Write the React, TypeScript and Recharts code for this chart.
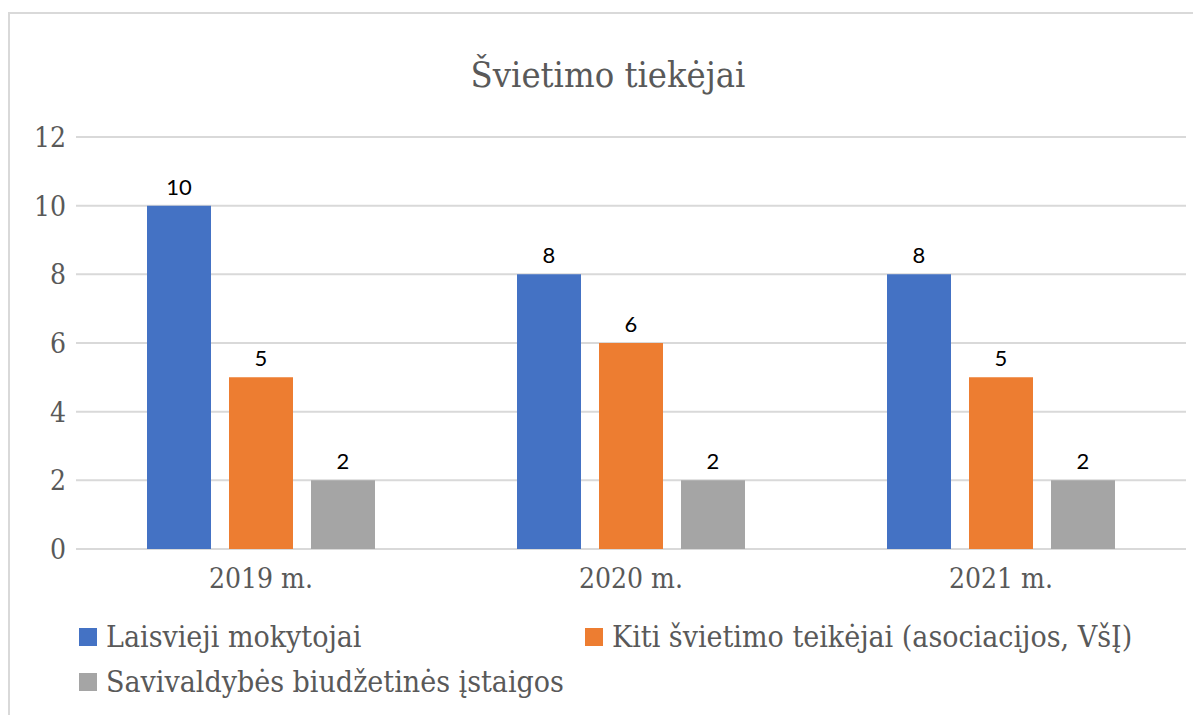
import { Bar, BarChart, CartesianGrid, LabelList, Legend, XAxis, YAxis } from "recharts";

const years = ["2019 m.", "2020 m.", "2021 m."];
const laisvieji = [10, 8, 8];
const kiti = [5, 6, 5];
const savivaldybes = [2, 2, 2];
const yTicks = [0, 2, 4, 6, 8, 10, 12];

const series = [
  { key: "laisvieji", name: "Laisvieji mokytojai", color: "#4472C4" },
  { key: "kiti", name: "Kiti švietimo teikėjai (asociacijos, VšĮ)", color: "#ED7D31" },
  { key: "savivaldybes", name: "Savivaldybės biudžetinės įstaigos", color: "#A5A5A5" },
];

const data = years.map((name, i) => ({
  name,
  laisvieji: laisvieji[i],
  kiti: kiti[i],
  savivaldybes: savivaldybes[i],
}));

const serif = "'DejaVu Serif Condensed', 'DejaVu Serif', serif";

function LegendBox() {
  const item = (s: (typeof series)[number], left: number, top: number) => (
    <div
      key={s.key}
      style={{ position: "absolute", left, top, display: "flex", alignItems: "center", whiteSpace: "nowrap" }}
    >
      <span style={{ width: 18, height: 18, background: s.color, marginRight: 9, display: "inline-block" }} />
      <span style={{ fontFamily: serif, fontStretch: "condensed", fontSize: 30, lineHeight: "35px", color: "#595959" }}>
        {s.name}
      </span>
    </div>
  );
  return (
    <div style={{ position: "relative", height: 126, width: 1192 }}>
      {item(series[0], 69, 30)}
      {item(series[1], 575, 30)}
      {item(series[2], 69, 75)}
    </div>
  );
}

export default function App() {
  return (
    <div
      style={{
        position: "relative",
        marginTop: 4,
        width: 1193,
        height: 703,
        borderTop: "2px solid #d9d9d9",
        borderLeft: "2px solid #d9d9d9",
        background: "#fff",
      }}
    >
      <div
        style={{
          position: "absolute",
          top: 40,
          left: 0,
          width: 1196,
          textAlign: "center",
          fontFamily: serif,
          fontStretch: "condensed",
          fontSize: 36,
          lineHeight: "42px",
          color: "#595959",
        }}
      >
        Švietimo tiekėjai
      </div>
      <BarChart
        width={1192}
        height={701}
        data={data}
        margin={{ top: 123, right: 16, left: 0, bottom: 0 }}
        barGap={18}
        barCategoryGap={70}
      >
        <CartesianGrid vertical={false} stroke="#d9d9d9" strokeWidth={2} />
        <XAxis
          dataKey="name"
          axisLine={false}
          tickLine={false}
          tickSize={0}
          tickMargin={19}
          height={40}
          tick={{ fontFamily: serif, fontStretch: "condensed", fontSize: 28, fill: "#595959" }}
        />
        <YAxis
          domain={[0, 12]}
          ticks={yTicks}
          axisLine={false}
          tickLine={false}
          tickSize={0}
          tickMargin={10}
          width={66}
          tick={{ fontFamily: serif, fontStretch: "condensed", fontSize: 28, fill: "#595959" }}
        />
        <Legend verticalAlign="bottom" content={() => <LegendBox />} wrapperStyle={{ height: 126 }} />
        {series.map((s) => (
          <Bar key={s.key} dataKey={s.key} name={s.name} fill={s.color} barSize={64} isAnimationActive={false}>
            <LabelList
              dataKey={s.key}
              position="top"
              offset={11}
              style={{ fontFamily: "Lato, sans-serif", fontSize: 22, fill: "#000" }}
            />
          </Bar>
        ))}
      </BarChart>
    </div>
  );
}
